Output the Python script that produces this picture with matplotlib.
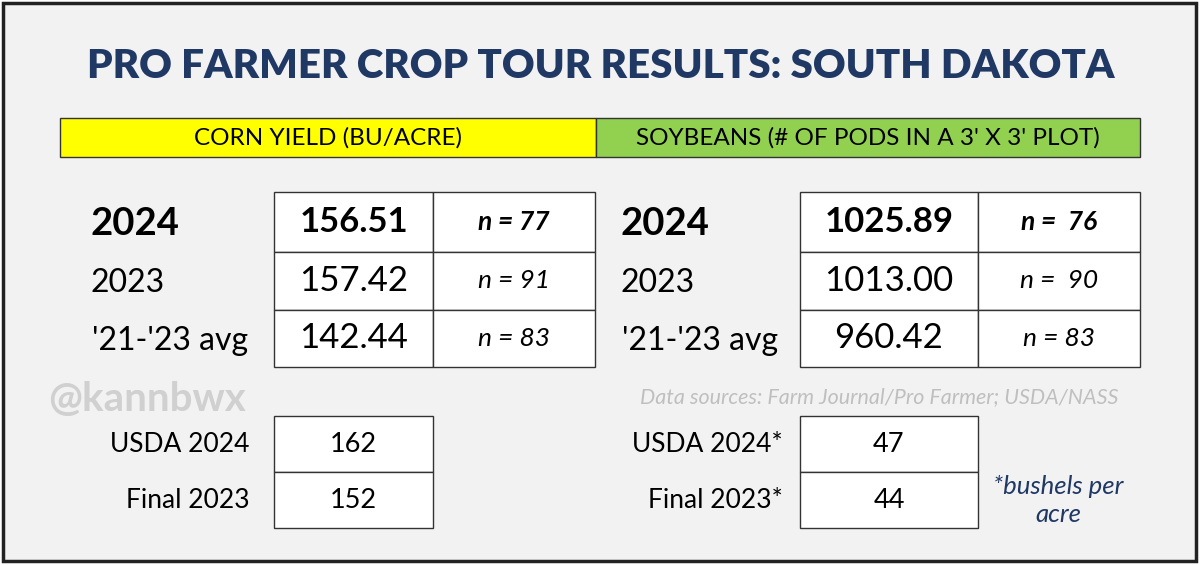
import matplotlib.pyplot as plt
from matplotlib.patches import Rectangle

plt.rcParams['font.family'] = ['Lato', 'DejaVu Sans']

title = 'PRO FARMER CROP TOUR RESULTS: SOUTH DAKOTA'
row_labels = ['2024', '2023', "'21-'23 avg"]
corn_vals = ['156.51', '157.42', '142.44']
corn_n = ['n = 77', 'n = 91', 'n = 83']
soy_vals = ['1025.89', '1013.00', '960.42']
soy_n = ['n =  76', 'n =  90', 'n = 83']
usda_labels_corn = ['USDA 2024', 'Final 2023']
usda_corn = ['162', '152']
usda_labels_soy = ['USDA 2024*', 'Final 2023*']
usda_soy = ['47', '44']

navy = '#1f3864'
fig = plt.figure(figsize=(12, 5.65), dpi=100)
ax = fig.add_axes([0, 0, 1, 1])
ax.set_xlim(0, 1200)
ax.set_ylim(565, 0)
ax.axis('off')
fig.patch.set_facecolor('white')
ax.add_patch(Rectangle((3, 3), 1193, 558, facecolor='#f2f2f2', edgecolor='#222222', lw=2.5))

ax.text(601, 66, title, ha='center', va='center', fontsize=29, fontweight='heavy', color=navy)

ax.add_patch(Rectangle((60, 118), 536, 39, facecolor='#ffff00', edgecolor='#333333', lw=1))
ax.add_patch(Rectangle((596, 118), 544, 39, facecolor='#92d050', edgecolor='#333333', lw=1))
ax.text(328, 138, 'CORN YIELD (BU/ACRE)', ha='center', va='center', fontsize=17.5, color='black')
ax.text(868, 138, "SOYBEANS (# OF PODS IN A 3' X 3' PLOT)", ha='center', va='center', fontsize=17.5, color='black')

row_y = [192, 252, 310, 367]


def block(xl, xb1, xb2, xb3, vals, ns):
    for i, (lab, v, n) in enumerate(zip(row_labels, vals, ns)):
        y0, y1 = row_y[i], row_y[i + 1]
        yc = (y0 + y1) / 2
        bold = 'bold' if i == 0 else 'normal'
        ax.add_patch(Rectangle((xb1, y0), xb2 - xb1, y1 - y0, facecolor='white', edgecolor='#333333', lw=1))
        ax.add_patch(Rectangle((xb2, y0), xb3 - xb2, y1 - y0, facecolor='white', edgecolor='#333333', lw=1))
        ax.text(xl if i < 2 else xl + 2, yc + 2, lab, ha='left', va='center', fontsize=27.5 if i == 0 else 23,
                fontweight=bold, color='black')
        ax.text((xb1 + xb2) / 2, yc, v, ha='center', va='center', fontsize=25, fontweight=bold)
        ax.text((xb2 + xb3) / 2, yc, n, ha='center', va='center', fontsize=19, style='italic', fontweight=bold)


block(90, 274, 433, 595, corn_vals, corn_n)
block(620, 800, 978, 1140, soy_vals, soy_n)

ax.text(48, 400, '@kannbwx', ha='left', va='center', fontsize=29, fontweight='bold', color='#d0d0d0')
ax.text(1118, 397, 'Data sources: Farm Journal/Pro Farmer; USDA/NASS', ha='right', va='center',
        fontsize=15.5, style='italic', color='#bfbfbf')

low_y = [416, 472, 528]


def lower(xr, xb1, xb2, labs, vals):
    for i, (lab, v) in enumerate(zip(labs, vals)):
        y0, y1 = low_y[i], low_y[i + 1]
        yc = (y0 + y1) / 2
        ax.add_patch(Rectangle((xb1, y0), xb2 - xb1, y1 - y0, facecolor='white', edgecolor='#333333', lw=1))
        ax.text(xr, yc, lab, ha='right', va='center', fontsize=19)
        ax.text((xb1 + xb2) / 2, yc, v, ha='center', va='center', fontsize=19.5)


lower(250, 274, 433, usda_labels_corn, usda_corn)
lower(783, 800, 978, usda_labels_soy, usda_soy)

ax.text(1058, 486, '*bushels per', ha='center', va='center', fontsize=18.5, style='italic', color=navy)
ax.text(1058, 514, 'acre', ha='center', va='center', fontsize=18.5, style='italic', color=navy)

fig.savefig('out.png', dpi=100, facecolor='white')
